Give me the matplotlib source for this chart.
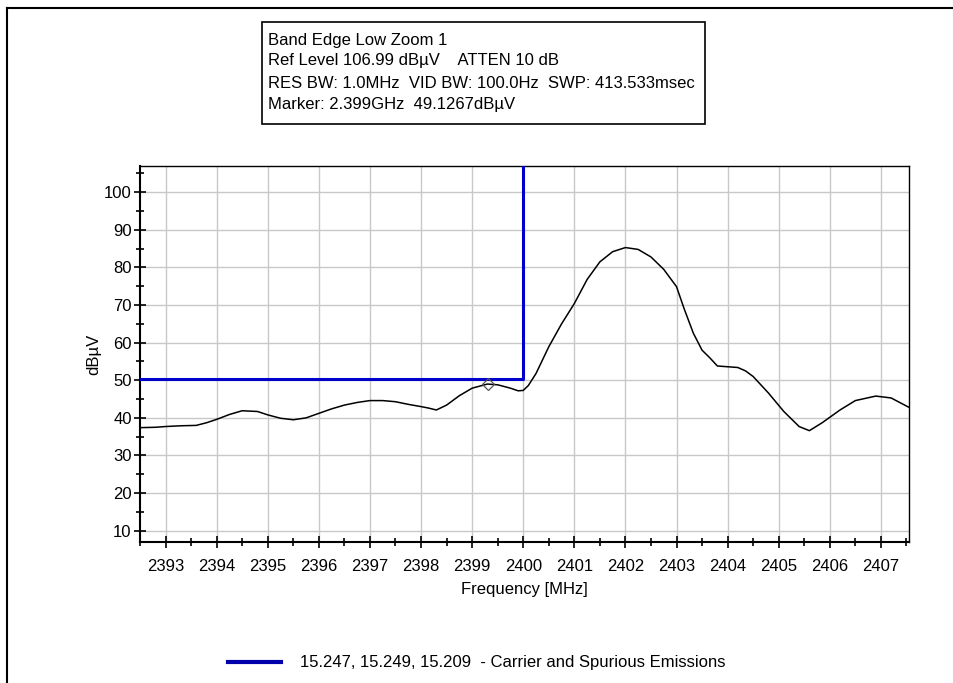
import matplotlib.pyplot as plt
from matplotlib.lines import Line2D
from matplotlib.ticker import MultipleLocator

plt.rcParams['font.family'] = ['Liberation Sans', 'DejaVu Sans']

# trace (MHz, dBuV)
freq = [2392.5, 2392.8, 2393.0, 2393.3, 2393.6, 2393.8, 2394.0, 2394.25, 2394.5,
        2394.8, 2395.0, 2395.25, 2395.5, 2395.75, 2396.0, 2396.25, 2396.5, 2396.75,
        2397.0, 2397.25, 2397.5, 2397.75, 2398.0, 2398.15, 2398.3, 2398.5, 2398.75,
        2399.0, 2399.3, 2399.5, 2399.75, 2399.9, 2400.0, 2400.1, 2400.25, 2400.5,
        2400.75, 2401.0, 2401.25, 2401.5, 2401.75, 2402.0, 2402.25, 2402.5, 2402.75,
        2403.0, 2403.15, 2403.33, 2403.5, 2403.65, 2403.8, 2404.0, 2404.2, 2404.35,
        2404.5, 2404.8, 2405.1, 2405.4, 2405.6, 2405.85, 2406.2, 2406.5, 2406.9,
        2407.2, 2407.55]
level = [37.4, 37.5, 37.7, 37.9, 38.0, 38.7, 39.6, 40.9, 41.9,
         41.7, 40.8, 39.9, 39.5, 40.0, 41.2, 42.4, 43.4, 44.1,
         44.6, 44.6, 44.3, 43.6, 43.0, 42.6, 42.1, 43.4, 45.9,
         47.9, 49.0, 48.8, 47.9, 47.2, 47.3, 48.6, 51.8, 58.9,
         65.0, 70.4, 76.8, 81.5, 84.2, 85.3, 84.8, 82.8, 79.5,
         74.9, 69.0, 62.5, 58.0, 56.0, 53.8, 53.6, 53.4, 52.5,
         51.0, 46.6, 41.7, 37.7, 36.6, 38.7, 42.1, 44.6, 45.8,
         45.3, 42.8]
limit_f = [2392.5, 2400.0, 2400.0]
limit_v = [50.4, 50.4, 110.0]
marker_f, marker_v = 2399.32, 49.0
x_ticks = list(range(2393, 2408))
y_ticks = list(range(10, 101, 10))
info = ['Band Edge Low Zoom 1',
        'Ref Level 106.99 dB\u00b5V    ATTEN 10 dB',
        'RES BW: 1.0MHz  VID BW: 100.0Hz  SWP: 413.533msec',
        'Marker: 2.399GHz  49.1267dB\u00b5V']
legend_label = '15.247, 15.249, 15.209  - Carrier and Spurious Emissions'

fig = plt.figure(figsize=(9.54, 6.83), dpi=100)
ax = fig.add_axes([140 / 954, 1 - 542 / 683, 769 / 954, 376 / 683])

ax.plot(freq, level, color='black', linewidth=1.1, zorder=3)
ax.plot(limit_f, limit_v, color='#0000cc', linewidth=2.2, zorder=4)
ax.plot([marker_f], [marker_v], marker='D', markersize=6, markerfacecolor='none',
        markeredgecolor='#555555', markeredgewidth=0.9, zorder=5)

ax.set_xlim(2392.5, 2407.55)
ax.set_ylim(6.99, 106.99)
ax.set_xticks(x_ticks)
ax.set_yticks(y_ticks)
ax.xaxis.set_minor_locator(MultipleLocator(0.5))
ax.yaxis.set_minor_locator(MultipleLocator(5))
ax.tick_params(which='both', direction='inout', length=8, width=1.2, labelsize=12)
ax.tick_params(which='minor', length=6)
ax.tick_params(axis='x', pad=8)
ax.tick_params(axis='y', pad=2)
ax.grid(which='major', color='#c8c8c8', linewidth=1)
for s in ['top', 'right']:
    ax.spines[s].set_linewidth(1)
for s in ['left', 'bottom']:
    ax.spines[s].set_linewidth(1.5)
ax.set_xlabel('Frequency [MHz]', fontsize=12, labelpad=6)
ax.set_ylabel('dB\u00b5V', fontsize=12, labelpad=2)

# info box, one line at a time
line_y = [40, 61, 83, 105]
for txt, yy in zip(info, line_y):
    fig.text(268 / 954, 1 - yy / 683, txt, fontsize=12, va='center', ha='left')
fig.patches.append(plt.Rectangle((262 / 954, 1 - 124 / 683), 443 / 954, 102 / 683,
                                 fill=False, edgecolor='black', linewidth=1.2,
                                 transform=fig.transFigure))

# legend at bottom
fig.add_artist(Line2D([228 / 954, 281 / 954], [1 - 662 / 683] * 2,
                      color='#0000aa', linewidth=3))
fig.text(300 / 954, 1 - 662 / 683, legend_label, fontsize=12, va='center', ha='left')

# outer frame (left and top)
fig.add_artist(Line2D([7 / 954, 7 / 954], [0, 1 - 8 / 683], color='black', linewidth=1.5))
fig.add_artist(Line2D([7 / 954, 1], [1 - 8 / 683] * 2, color='black', linewidth=1.5))

plt.savefig('out.png', dpi=100)
